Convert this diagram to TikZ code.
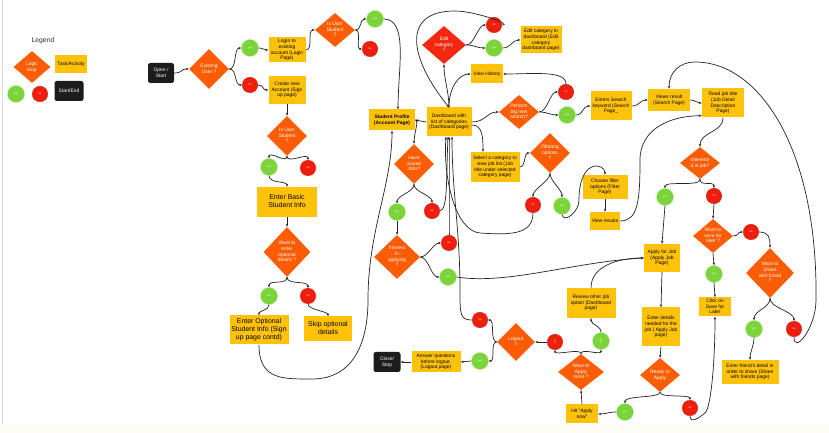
\documentclass[tikz,border=0pt]{standalone}
\usepackage{fontspec}
\setmainfont{Liberation Sans}
\usetikzlibrary{shapes.geometric,arrows.meta,calc}

\definecolor{dorange}{RGB}{252,92,3}
\definecolor{dred}{RGB}{244,40,16}
\definecolor{taskyel}{RGB}{255,194,10}
\definecolor{ygreen}{RGB}{122,212,58}
\definecolor{ygreenb}{RGB}{185,232,150}
\definecolor{nred}{RGB}{240,30,12}
\definecolor{nredb}{RGB}{200,24,10}
\definecolor{termblk}{RGB}{28,28,28}
\definecolor{wire}{RGB}{35,35,35}
\definecolor{legendc}{RGB}{45,45,65}
\definecolor{cream}{RGB}{253,251,245}

\newcommand\tfont{\fontsize{4.2}{4.9}\selectfont}
\newcommand\bigfont{\fontsize{5.9}{6.6}\selectfont}
\newcommand\cfont{\fontsize{2.3}{2.6}\selectfont}
% centred multi-line text that does not change the size of its shape
\newsavebox\txbox
\newcommand\tx[1]{\sbox\txbox{\begin{tabular}{@{}c@{}}#1\end{tabular}}%
  \makebox[0pt]{\raisebox{\dimexpr(\dp\txbox-\ht\txbox)/2\relax}[0pt][0pt]{\usebox\txbox}}}

\begin{document}
\begin{tikzpicture}[x=0.03cm,y=-0.03cm,
  taskbox/.style 2 args={fill=taskyel, minimum width=#1*0.03cm, minimum height=#2*0.03cm, inner sep=0pt, font=\tfont, text=black},
  decide/.style 2 args={shape=diamond, fill=dorange, minimum width=#1*0.03cm, minimum height=#2*0.03cm, inner sep=0pt, font=\tfont, text=white},
  term/.style 2 args={fill=termblk, rounded corners=2pt, minimum width=#1*0.03cm, minimum height=#2*0.03cm, inner sep=0pt, font=\tfont, text=white},
  yesdot/.style={circle, fill=ygreen, draw=ygreenb, line width=0.3pt, minimum size=17*0.03cm, inner sep=0pt, font=\cfont, text=white},
  nodot/.style={circle, fill=nred, draw=nredb, line width=0.3pt, minimum size=15.5*0.03cm, inner sep=0pt, font=\cfont, text=white},
  flow/.style={draw=wire, line width=0.6pt, -{Stealth[length=2.5pt,width=2pt]}}
]
\useasboundingbox (0,0) rectangle (829,433);
\fill[white] (0,0) rectangle (829,433);
\fill[cream] (0,424) rectangle (829,433);
\draw[gray!30, line width=0.3pt] (2.5,0) -- (2.5,424);

% ---------- legend ----------
\node[font=\fontsize{5.8}{6.5}\selectfont, text=legendc] (legend) at (43,41) {Legend};
\node[decide={37}{32}] (lgloop) at (32,67) {\tx{Logic\\loop}};
\node[taskbox={32}{18}] (lgtask) at (71,64) {\tx{Task/Activity}};
\node[yesdot] (lgyes) at (16,94) {yes};
\node[nodot] (lgno) at (40,94) {no};
\node[term={29}{20}] (lgend) at (69,91) {\tx{Start/End}};

% ---------- sign in / sign up ----------
\node[term={26}{20}] (start) at (161,73) {\tx{Open /\\Start}};
\node[decide={40}{40}] (exist) at (209,69) {\tx{Existing\\User ?}};
\node[yesdot] (y1) at (250,48) {yes};
\node[nodot] (n1) at (250,85) {no};
\node[taskbox={37}{25}] (login) at (287,50) {\tx{Login to\\existing\\account (Login\\Page)}};
\node[taskbox={37}{28}] (create) at (287,90) {\tx{Create new\\Account (Sign\\up page)}};
\node[decide={40}{34}] (stud1) at (335,30) {\tx{Is User\\Student\\?}};
\node[yesdot] (y2) at (375,19) {yes};
\node[nodot] (n2) at (370,49) {no};
\node[decide={40}{40}] (stud2) at (287,136) {\tx{Is User\\Student\\?}};
\node[yesdot] (y3) at (269,167) {yes};
\node[nodot] (n3) at (308,168) {no};
\node[taskbox={60}{30}, font=\bigfont] (basic) at (287,202) {\tx{Enter Basic\\Student Info}};
\node[decide={47}{50}] (opt) at (287,252) {\tx{Want to\\enter\\optional\\details ?}};
\node[yesdot] (y4) at (269,296) {yes};
\node[nodot] (n4) at (308,296) {no};
\node[taskbox={59}{29}, font=\bigfont] (enteropt) at (259,330) {\tx{Enter Optional\\Student Info (Sign\\up page contd)}};
\node[taskbox={48}{25}, font=\bigfont] (skip) at (328,329) {\tx{Skip optional\\details}};

% ---------- profile and dashboard ----------
\node[taskbox={46}{21}] (profile) at (392,120) {\tx{\bfseries Student Profile\\\bfseries (Account Page)}};
\node[taskbox={45}{29}] (dash) at (449,122) {\tx{Dashboard with\\list of categories\\(Dashboard page)}};
\node[decide={44}{38}, fill=dred] (editd) at (444,45) {\tx{Edit\\category\\?}};
\node[nodot] (n5) at (494,25) {no};
\node[yesdot] (y5) at (494,48) {yes};
\node[taskbox={41}{27}] (editbox) at (541,40) {\tx{Edit category in\\dashboard (Edit\\category\\dashboard page)}};
\node[taskbox={32}{19}] (hist) at (487,74) {\tx{View History}};
\node[decide={40}{34}] (perf) at (519,112) {\tx{Perform\\ing new\\search?}};
\node[nodot] (n6) at (566,92) {no};
\node[yesdot] (y6) at (567,115) {yes};
\node[decide={40}{40}] (saved) at (414,164) {\tx{Have\\Saved\\Jobs?}};
\node[yesdot] (y8) at (397,212) {yes};
\node[nodot] (n8) at (432,211) {no};
\node[decide={46}{44}] (inter) at (397,257) {\tx{Interest\\in\\applying\\?}};
\node[nodot] (n9) at (449,243) {no};
\node[yesdot] (y9) at (448,277) {yes};
\node[taskbox={49}{30}] (sel) at (495,167) {\tx{Select a category to\\view job list (Job\\title under selected\\category page)}};
\node[decide={40}{40}] (filt) at (550,153) {\tx{Filtering\\options\\?}};
\node[nodot] (n7) at (533,205) {no};
\node[yesdot] (y7) at (562,206) {yes};
\node[taskbox={45}{24}] (choose) at (605,187) {\tx{Choose filter\\options (Filter\\Page)}};
\node[taskbox={30}{18}] (vres) at (605,221) {\tx{View results}};

% ---------- search and job detail ----------
\node[taskbox={41}{29}] (search) at (611,106) {\tx{Enters Search\\keyword (Search\\Page\_}};
\node[taskbox={42}{22}] (views) at (669,100) {\tx{Views result\\(Search Page)}};
\node[taskbox={42}{29}] (read) at (723,103) {\tx{Read job title\\(Job Detail\\Description\\Page)}};
\node[decide={40}{32}] (intj) at (700,163) {\tx{Intereste\\d in job?}};
\node[yesdot] (y10) at (665,197) {yes};
\node[nodot] (n10) at (714,196) {no};
\node[decide={40}{34}] (saved2) at (713,236) {\tx{Want to\\save for\\later ?}};
\node[nodot] (n11) at (751,232) {no};
\node[yesdot] (y11) at (714,274) {yes};
\node[taskbox={32}{19}] (clicksave) at (715,307) {\tx{Click on\\Save for\\Later}};
\node[decide={48}{50}] (share) at (770,273) {\tx{Want to\\Share\\with friend\\?}};
\node[yesdot] (y12) at (754,329) {yes};
\node[nodot] (n12) at (794,329) {no};
\node[taskbox={57}{24}] (friend) at (750,372) {\tx{Enter friend's detail in\\order to share (Share\\with friends page)}};

% ---------- applying ----------
\node[taskbox={36}{28}] (apply) at (662,258) {\tx{Apply for Job\\(Apply Job\\Page)}};
\node[taskbox={38}{39}] (details) at (661,327) {\tx{Enter details\\needed for the\\job ( Apply Job\\page)}};
\node[decide={40}{34}] (ready) at (660,375) {\tx{Ready to\\Apply}};
\node[yesdot] (y14) at (625,412) {yes};
\node[nodot] (n14) at (690,408) {no};
\node[taskbox={32}{19}] (hit) at (582,414) {\tx{Hit "Apply\\now"}};
\node[decide={46}{36}] (more) at (581,372) {\tx{Want to\\Apply\\more ?}};
\node[nodot, rotate=90] (n13) at (555,342) {no};
\node[yesdot, rotate=90] (y13) at (601,341) {yes};
\node[taskbox={49}{30}] (review) at (591,303) {\tx{Review other job\\option (Dashboard\\page)}};
\node[decide={38}{38}] (logout) at (516,342) {\tx{Logout\\?}};
\node[nodot] (n15) at (480,320) {no};
\node[yesdot] (y15) at (480,361) {yes};
\node[taskbox={49}{21}] (answer) at (436,362) {\tx{Answer questions\\before logout.\\(Logout page)}};
\node[term={27}{20}] (close) at (387,362) {\tx{Close/\\Stop}};

% ---------- connectors: sign in / sign up ----------
\draw[flow] (start.east) .. controls +(9,0) and +(-9,0) .. (exist.west);
\draw[flow] (exist.east) .. controls +(8,0) and +(-8,0) .. (y1.west);
\draw[flow] (exist.east) .. controls +(8,0) and +(-8,0) .. (n1.west);
\draw[flow] (y1.east) .. controls +(5,0) and +(-5,0) .. (login.west);
\draw[flow] (n1.east) .. controls +(6,0) and +(-6,0) .. (create.west);
\draw[flow] (login.east) .. controls +(8,0) and +(-8,0) .. (stud1.west);
\draw[flow] (stud1.east) .. controls +(7,0) and +(-7,0) .. (y2.west);
\draw[flow] (stud1.east) .. controls +(7,0) and +(-7,0) .. (n2.west);
\draw[flow] (y2.east) .. controls +(25,0) and +(0,-40) .. ($(profile.north)+(6,0)$);
\draw[flow] (create.south) -- (stud2.north);
\draw[flow] (stud2.south) .. controls +(0,8) and +(0,-8) .. (y3.north);
\draw[flow] (stud2.south) .. controls +(0,8) and +(0,-8) .. (n3.north);
\draw[flow] (y3.south) .. controls +(0,8) and +(0,-6) .. (basic.north);
\draw[flow] (basic.south) -- (opt.north);
\draw[flow] (opt.south) .. controls +(0,8) and +(0,-8) .. (y4.north);
\draw[flow] (opt.south) .. controls +(0,8) and +(0,-8) .. (n4.north);
\draw[flow] (y4.south) .. controls +(0,6) and +(0,-5) .. (enteropt.north);
\draw[flow] (n4.south) .. controls +(0,6) and +(0,-5) .. (skip.north);
\draw[flow] (enteropt.south) .. controls +(0,35) and +(-30,0) .. (312,379)
  .. controls +(40,0) and +(0,45) .. (368,300)
  .. controls +(0,-70) and +(0,55) .. (profile.south);

% ---------- connectors: profile and dashboard ----------
\draw[flow] (dash.west) -- (profile.east);
\draw[flow] (profile.east) .. controls +(4,0) and +(0,-10) .. (saved.north);
\draw[flow] (saved.south) .. controls +(0,8) and +(0,-8) .. (y8.north);
\draw[flow] (saved.south) .. controls +(0,8) and +(0,-8) .. (n8.north);
\draw[flow] (y8.south) -- (inter.north);
\draw[flow] (n8.east) .. controls +(8,-2) and +(-2,45) .. ($(dash.south)+(-1,0)$);
\draw[flow] (inter.east) .. controls +(8,0) and +(-8,0) .. (n9.west);
\draw[flow] (inter.east) .. controls +(8,0) and +(-8,0) .. (y9.west);
\draw[flow] (n9.north) .. controls +(0,-40) and +(0,40) .. (dash.south);
\draw[flow] (y9.east) .. controls +(50,8) and +(-70,4) .. (apply.west);
\draw[flow] (dash.north) .. controls +(0,-15) and +(0,15) .. (editd.south);
\draw[flow] (n5.east) .. controls +(12,0) and +(20,0) .. (455,11)
  .. controls +(-55,0) and +(-39,-48) .. (dash.north);
\draw[flow] (dash.north) .. controls +(0,-20) and +(-12,0) .. (hist.west);
\draw[flow] (editd.east) .. controls +(8,0) and +(-8,0) .. (n5.west);
\draw[flow] (editd.east) .. controls +(8,0) and +(-8,0) .. (y5.west);
\draw[flow] (y5.east) .. controls +(8,0) and +(-8,0) .. (editbox.west);
\draw[flow] (n6.north) .. controls +(0,-14) and +(30,0) .. (hist.east);
\draw[flow] (dash.east) .. controls +(14,0) and +(-12,0) .. (perf.west);
\draw[flow] (perf.east) .. controls +(8,0) and +(-8,0) .. (n6.west);
\draw[flow] (perf.east) .. controls +(8,0) and +(-8,0) .. (y6.west);
\draw[flow] ($(dash.east)+(0,3)$) .. controls +(11,0) and +(0,-14) .. ($(sel.north)+(-12,0)$);
\draw[flow] (sel.east) .. controls +(6,0) and +(-6,0) .. (filt.west);
\draw[flow] (filt.south) .. controls +(0,8) and +(0,-8) .. (n7.north);
\draw[flow] (filt.south) .. controls +(0,8) and +(0,-8) .. (y7.north);
\draw[flow] (n7.south) .. controls +(0,22) and +(30,2) .. (480,233)
  .. controls +(-25,-2) and +(-3,40) .. ($(dash.south)+(-3,0)$);
\draw[flow] (y7.south) .. controls +(2,9) and +(0,12) .. (579,200)
  .. controls +(0,-42) and +(0,-12) .. (choose.north);
\draw[flow] (choose.south) -- (vres.north);

% ---------- connectors: search and job detail ----------
\draw[flow] (y6.east) .. controls +(8,0) and +(-8,0) .. (search.west);
\draw[flow] (search.east) .. controls +(8,0) and +(-8,0) .. (views.west);
\draw[flow] (views.east) .. controls +(6,0) and +(-6,0) .. (read.west);
\draw[flow] (vres.east) .. controls +(18,0) and +(0,40) .. (640,160)
  .. controls +(0,-32) and +(-30,0) .. ($(read.south west)+(0,-2)$);
\draw[flow] (read.south) .. controls +(0,15) and +(0,-15) .. (intj.north);
\draw[flow] (intj.south) .. controls +(0,8) and +(0,-8) .. (y10.north);
\draw[flow] (intj.south) .. controls +(0,8) and +(0,-8) .. (n10.north);
\draw[flow] (y10.south) -- (apply.north);
\draw[flow] (n10.south) -- (saved2.north);
\draw[flow] (saved2.east) .. controls +(6,0) and +(-6,0) .. (n11.west);
\draw[flow] (saved2.south) -- (y11.north);
\draw[flow] (y11.south) -- (clicksave.north);
\draw[flow] (n11.east) .. controls +(10,0) and +(0,-10) .. (share.north);
\draw[flow] (share.south) .. controls +(0,10) and +(0,-10) .. (y12.north);
\draw[flow] (share.south) .. controls +(0,10) and +(0,-10) .. (n12.north);
\draw[flow] (y12.south) .. controls +(0,8) and +(0,-8) .. (friend.north);
\draw[flow] (n12.south) .. controls +(0,18) and +(0,28) .. (816,300)
  .. controls (818,150) and (760,62) .. (695,62)
  .. controls (680,62) and (669,72) .. (views.north);

% ---------- connectors: applying and logout ----------
\draw[flow] (apply.south) -- (details.north);
\draw[flow] (details.south) -- (ready.north);
\draw[flow] (ready.south) .. controls +(0,6) and +(0,-8) .. (y14.north);
\draw[flow] (ready.south) .. controls +(0,6) and +(0,-6) .. (n14.north);
\draw[flow] (n14.south) .. controls +(0,8) and +(-6,5) .. (705,413)
  .. controls +(6,-5) and +(0,45) .. (clicksave.south);
\draw[flow] (y14.west) .. controls +(-8,0) and +(8,0) .. (hit.east);
\draw[flow] (hit.north) -- (more.south);
\draw[flow] (more.north) .. controls +(0,-6) and +(0,6) .. (n13.west);
\draw[flow] (more.north) .. controls +(0,-6) and +(0,6) .. (y13.west);
\draw[flow] (y13.east) .. controls +(0,-7) and +(0,7) .. (review.south);
\draw[flow] (review.north) .. controls +(0,-22) and +(-25,0) .. (apply.west);
\draw[flow] (n13.north) -- (logout.east);
\draw[flow] (logout.west) .. controls +(-7,0) and +(7,0) .. (n15.east);
\draw[flow] (logout.west) .. controls +(-7,0) and +(7,0) .. (y15.east);
\draw[flow] (y15.west) -- (answer.east);
\draw[flow] (answer.west) -- (close.east);
\draw[flow] (n15.west) .. controls +(-12,0) and +(0,25) .. (460,290)
  .. controls +(0,-60) and +(0,55) .. ($(dash.south)+(3,0)$);
\end{tikzpicture}
\end{document}
